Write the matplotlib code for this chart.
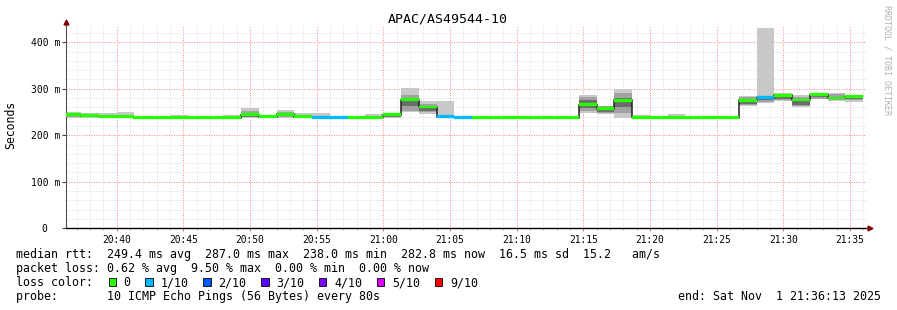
import numpy as np
import matplotlib
matplotlib.use("Agg")
import matplotlib.pyplot as plt
from matplotlib.patches import Rectangle
from matplotlib.lines import Line2D

plt.rcParams['font.family'] = ['DejaVu Sans Mono', 'DejaVu Sans']

# ---------------- data ----------------
title = "APAC/AS49544-10"
ylabel = "Seconds"
start_time = "20:36:13"
end_time = "21:36:13"
first_boundary = "20:37:19"
step_seconds = 80

x_tick_labels = ["20:40", "20:45", "20:50", "20:55", "21:00", "21:05",
                 "21:10", "21:15", "21:20", "21:25", "21:30", "21:35"]
y_ticks = [0, 100, 200, 300, 400]
y_tick_labels = ["0  ", "100 m", "200 m", "300 m", "400 m"]

# median RTT per 80 s step (ms)
median = [244, 242, 241, 240, 238, 238, 238, 238, 238, 238,
          244, 240, 245, 240, 238.5, 238.5, 238.5, 238.5, 244, 276.5,
          261, 240, 238.5, 238, 238, 238, 238, 238, 238, 266,
          257, 275, 239, 238, 239, 238.5, 238, 238, 275, 280.5,
          286, 276, 287, 280, 282.8]
# lost pings (out of 10) per step
loss = [0, 0, 0, 0, 0, 0, 0, 0, 0, 0,
        0, 0, 0, 0, 1, 1, 0, 0, 0, 0,
        0, 1, 1, 0, 0, 0, 0, 0, 0, 0,
        0, 0, 0, 0, 0, 0, 0, 0, 0, 1,
        0, 0, 0, 0, 0]
# smoke: outer (min..max), mid and inner ping ranges (ms)
smoke_max = [250, 249, 247, 250, 240, 240, 244, 240, 240, 244,
             259, 241, 254, 247, 248, 240, 240, 246, 248, 302,
             274, 274, 240, 240, 240, 240, 240, 240, 240, 287,
             264, 300, 243, 240, 246, 241, 241, 240, 285, 431,
             292, 286, 292, 291, 287]
smoke_min = [238, 238, 238, 238, 237, 237, 237, 237, 237, 237,
             238, 237, 237, 238, 237, 237, 237, 237, 238, 250,
             246, 238, 237, 237, 237, 237, 237, 237, 237, 247,
             245, 238, 237, 237, 237, 237, 237, 237, 263, 270,
             274, 261, 277, 274, 272]
mid_hi = [246, 245, 243, 243, 239, 239, 240, 239, 239, 240,
          252, 240, 251, 244, 240, 239, 239, 241, 245, 287,
          268, 242, 239, 239, 239, 239, 239, 239, 239, 283,
          262, 290, 240, 239, 242, 240, 239, 239, 283, 283,
          289, 282, 290, 288, 285]
mid_lo = [240, 239, 239, 238, 237, 237, 237, 237, 237, 237,
          239, 238, 239, 238, 237, 237, 237, 237, 239, 253,
          250, 238, 237, 237, 237, 237, 237, 237, 237, 252,
          248, 247, 237, 237, 238, 237, 237, 237, 266, 272,
          276, 263, 279, 276, 275]
inner_hi = [245, 243, 242, 241, 239, 239, 239, 239, 239, 239,
            247, 240, 248, 242, 239, 239, 239, 239, 244, 280,
            262, 240, 239, 239, 239, 239, 239, 239, 239, 276,
            259, 280, 240, 239, 240, 239, 239, 239, 279, 282,
            287, 278, 288, 283, 284]
inner_lo = [241, 240, 240, 239, 238, 238, 238, 238, 238, 238,
            240, 239, 241, 239, 238, 238, 238, 238, 240, 262,
            253, 238, 238, 238, 238, 238, 238, 238, 238, 258,
            251, 260, 238, 238, 238, 238, 238, 238, 268, 275,
            279, 266, 282, 277, 278]

loss_levels = [0, 1, 2, 3, 4, 5, 9]
loss_labels = ["0", "1/10", "2/10", "3/10", "4/10", "5/10", "9/10"]
loss_colors = ["#26ff00", "#00b8ff", "#0059ff", "#5e00ff", "#7e00ff", "#dd00ff", "#ff0000"]

stat_line1 = "median rtt:  249.4 ms avg  287.0 ms max  238.0 ms min  282.8 ms now  16.5 ms sd  15.2   am/s"
stat_line2 = "packet loss: 0.62 % avg  9.50 % max  0.00 % min  0.00 % now"
legend_head = "loss color:"
probe_line = "probe:       10 ICMP Echo Pings (56 Bytes) every 80s"
end_line = "end: Sat Nov  1 21:36:13 2025"
watermark = "RRDTOOL / TOBI OETIKER"

# ---------------- helpers ----------------
W, H = 897, 310


def hms(s):
    p = [int(v) for v in s.split(":")]
    while len(p) < 3:
        p.append(0)
    return p[0] * 3600 + p[1] * 60 + p[2]


def fx(px):
    return px / W


def fy(py):
    return 1 - py / H


t0 = hms(start_time)
t1 = hms(end_time)
n = len(median)
edges = np.array([0] + [hms(first_boundary) - t0 + step_seconds * k for k in range(n)], dtype=float)

fig = plt.figure(figsize=(W / 100, H / 100), dpi=100)
fig.patch.set_facecolor("white")
ax_left, ax_right, ax_bottom, ax_top = 66.3, 866.3, 228.3, 26.0
ax = fig.add_axes([fx(ax_left), fy(ax_bottom), (ax_right - ax_left) / W, (ax_bottom - ax_top) / H])
ax.set_xlim(0, t1 - t0)
ax.set_ylim(0, 435)

# grid
xt = [hms(l) - t0 for l in x_tick_labels]
ax.set_xticks(xt)
ax.set_xticklabels(x_tick_labels)
first_min = (t0 // 60 + 1) * 60
ax.set_xticks(np.arange(first_min, t1 + 1, 60) - t0, minor=True)
ax.set_yticks(y_ticks)
ax.set_yticklabels(y_tick_labels)
ax.set_yticks(np.arange(0, 436, 20), minor=True)
ax.set_axisbelow(True)
ax.grid(which="minor", color="#d6d6d6", linestyle=(0, (1, 2)), linewidth=0.72)
ax.grid(which="major", color="#ff8a8a", linestyle=(0, (1, 1.5)), linewidth=0.72)

ax.tick_params(axis="x", which="major", length=2, width=0.7, color="#e07070", pad=3, labelsize=6.9)
ax.tick_params(axis="x", which="minor", length=1.5, width=0.7, color="#b0b0b0")
ax.tick_params(axis="y", which="major", length=3, width=0.8, color="#404040", pad=1.5, labelsize=7)
ax.tick_params(axis="y", which="minor", length=0)

for s in ("top", "right"):
    ax.spines[s].set_visible(False)
ax.spines["left"].set_color("#505050")
ax.spines["left"].set_linewidth(0.8)
ax.spines["bottom"].set_color("#000000")
ax.spines["bottom"].set_linewidth(1.0)

# smoke
ax.stairs(smoke_max, edges, baseline=smoke_min, fill=True, color="#c8c8c8", lw=0, zorder=2)
ax.stairs(mid_hi, edges, baseline=mid_lo, fill=True, color="#a2a2a2", lw=0, zorder=3)
ax.stairs(inner_hi, edges, baseline=inner_lo, fill=True, color="#6c6c6c", lw=0, zorder=4)

# median line
ax.stairs(median, edges, baseline=None, color="#202020", lw=1.1, zorder=5)

# loss-coloured median band
bh = 3.0
cmap = dict(zip(loss_levels, loss_colors))
for i in range(n):
    c = cmap[loss[i]]
    ax.bar(edges[i], 2 * bh, bottom=median[i] - bh, width=edges[i + 1] - edges[i],
           align="edge", color=c, edgecolor=c, linewidth=0.2, zorder=6)

# arrows
ax.add_line(Line2D([0, 0], [1, 1.02], transform=ax.transAxes, color="#505050", lw=0.8, clip_on=False))
ax.plot([0], [1.022], marker="^", markersize=3.5, color="#7f0000", transform=ax.transAxes, clip_on=False)
ax.plot([1.005], [0], marker=">", markersize=3.5, color="#7f0000", transform=ax.transAxes, clip_on=False)

# titles
fig.text(fx(447.8), fy(19.5), title, ha="center", va="center", fontsize=9.5)
fig.text(fx(11), fy(125), ylabel, ha="center", va="center", rotation=90, fontsize=8.3)
fig.text(fx(887), fy(60), watermark, ha="center", va="center", rotation=270, fontsize=6,
         color="#b0b0b0")

# legend text
fs = 8.4
cw = 7.02
x0 = 16
fig.text(fx(x0), fy(258.3), stat_line1, ha="left", va="baseline", fontsize=fs)
fig.text(fx(x0), fy(272.3), stat_line2, ha="left", va="baseline", fontsize=fs)
fig.text(fx(x0), fy(286.5), legend_head, ha="left", va="baseline", fontsize=fs)
fig.text(fx(x0), fy(300.3), probe_line, ha="left", va="baseline", fontsize=fs)
fig.text(fx(881), fy(300.3), end_line, ha="right", va="baseline", fontsize=fs)

bx = x0 + 13 * cw + 1.3
for lab, col in zip(loss_labels, loss_colors):
    fig.patches.append(Rectangle((fx(bx), fy(285.7)), 7.3 / W, 7.4 / H, transform=fig.transFigure,
                                 facecolor=col, edgecolor="black", linewidth=0.6))
    lx = bx + 15
    fig.text(fx(lx), fy(286.5), lab, ha="left", va="baseline", fontsize=fs)
    bx = lx + (len(lab) + 2) * cw + 0.8

fig.savefig("out.png", dpi=100, facecolor="white")
